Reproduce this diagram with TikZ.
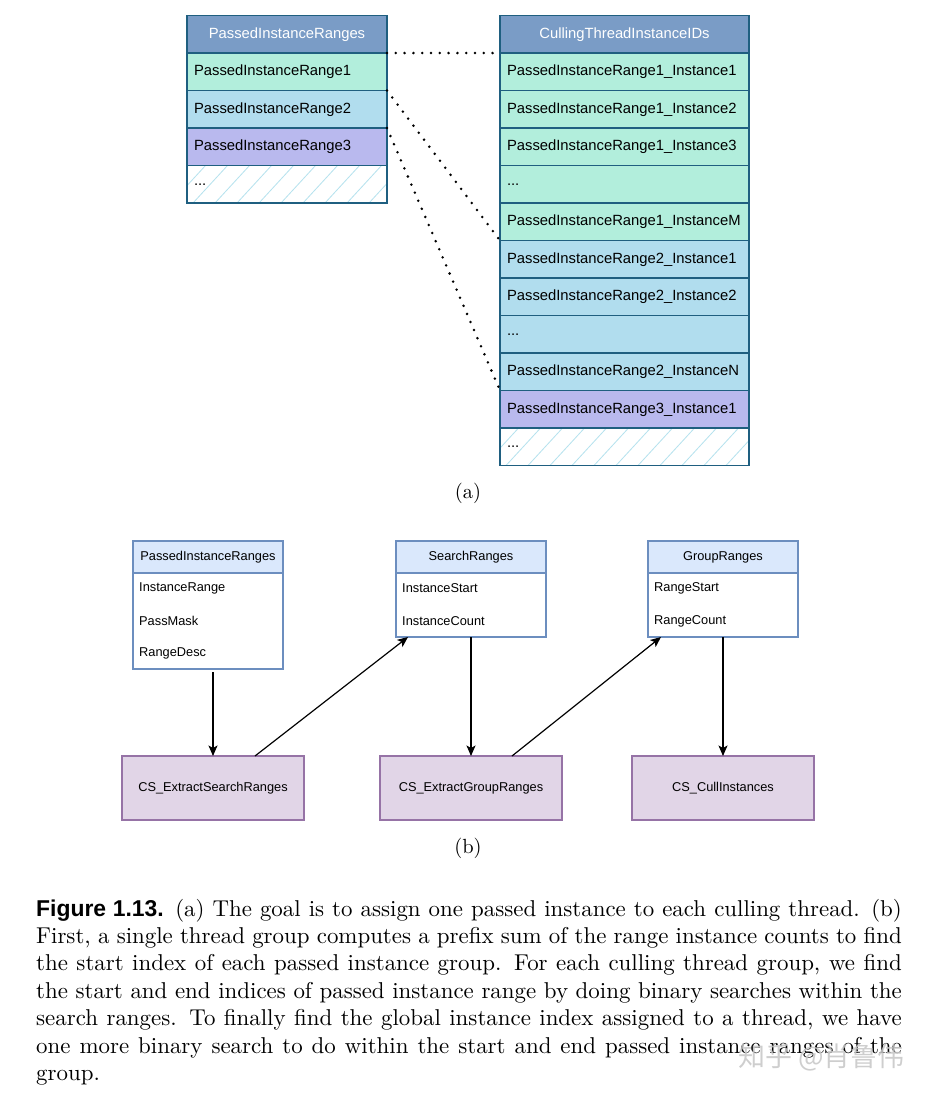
\documentclass[tikz,border=0pt]{standalone}
\usepackage{fontspec}
\usepackage{graphicx}
\newfontfamily\arial{Liberation Sans}
\newfontfamily\cjk{Noto Sans CJK SC}
\usetikzlibrary{arrows.meta}
\definecolor{tborder}{HTML}{1F5F80}
\definecolor{thead}{HTML}{7A9CC6}
\definecolor{mint}{HTML}{B2EEDC}
\definecolor{lblue}{HTML}{B1DDEE}
\definecolor{lav}{HTML}{B9B9EE}
\definecolor{hatchc}{HTML}{B4E2EE}
\definecolor{bborder}{HTML}{6C8EBF}
\definecolor{bhead}{HTML}{DAE8FC}
\definecolor{pborder}{HTML}{9673A6}
\definecolor{pfill}{HTML}{E1D5E7}
\begin{document}
\begin{tikzpicture}[x=1pt,y=-1pt,
  cell/.style={draw=tborder, line width=1.4pt, minimum height=37.5pt, inner xsep=7pt, inner ysep=0pt,
    align=left, anchor=north west, outer sep=0pt, font=\arial\fontsize{14.8}{17}\selectfont},
  lcell/.style={cell, text width=186pt},
  rcell/.style={cell, text width=235pt},
  thdr/.style={fill=thead, text=white, align=center},
  hatched/.style={fill=white, path picture={
      \foreach \i in {-60,-38,...,260}
        \draw[hatchc, line width=0.8pt] ([xshift=\i pt]path picture bounding box.south west) -- ++(35,-38);}},
  dots/.style={line width=2.8pt, line cap=round, dash pattern=on 0pt off 8.8pt},
  bfont/.style={font=\arial\fontsize{12.8}{15}\selectfont},
  hdr/.style={draw=bborder, fill=bhead, line width=1.2pt, minimum width=150pt, minimum height=32pt,
    anchor=north west, outer sep=0pt, inner sep=0pt, bfont},
  body/.style={draw=bborder, fill=white, line width=1.2pt, minimum width=150pt, anchor=north west,
    outer sep=0pt, inner sep=0pt},
  item/.style={anchor=west, inner sep=0pt, bfont},
  proc/.style={draw=pborder, fill=pfill, line width=1.2pt, minimum width=182pt, minimum height=64pt,
    anchor=north west, outer sep=0pt, inner sep=0pt, bfont},
  arr/.style={line width=1.2pt, -{Stealth[length=10.5pt,width=9pt,inset=2.5pt]}}
]
\useasboundingbox (0,0) rectangle (937,1096);

% ---------- (a) left table ----------
\node[lcell, thdr] (L0) at (187,15.5) {PassedInstanceRanges};
\node[lcell, fill=mint] (L1) at (L0.south west) {PassedInstanceRange1};
\node[lcell, fill=lblue] (L2) at (L1.south west) {PassedInstanceRange2};
\node[lcell, fill=lav] (L3) at (L2.south west) {PassedInstanceRange3};
\node[lcell, hatched] (L4) at (L3.south west) {...};

% ---------- (a) right table ----------
\node[rcell, thdr] (R0) at (500,15.5) {CullingThreadInstanceIDs};
\node[rcell, fill=mint] (R1) at (R0.south west) {PassedInstanceRange1\_Instance1};
\node[rcell, fill=mint] (R2) at (R1.south west) {PassedInstanceRange1\_Instance2};
\node[rcell, fill=mint] (R3) at (R2.south west) {PassedInstanceRange1\_Instance3};
\node[rcell, fill=mint] (R4) at (R3.south west) {...};
\node[rcell, fill=mint] (R5) at (R4.south west) {PassedInstanceRange1\_InstanceM};
\node[rcell, fill=lblue] (R6) at (R5.south west) {PassedInstanceRange2\_Instance1};
\node[rcell, fill=lblue] (R7) at (R6.south west) {PassedInstanceRange2\_Instance2};
\node[rcell, fill=lblue] (R8) at (R7.south west) {...};
\node[rcell, fill=lblue] (R9) at (R8.south west) {PassedInstanceRange2\_InstanceN};
\node[rcell, fill=lav] (R10) at (R9.south west) {PassedInstanceRange3\_Instance1};
\node[rcell, hatched] (R11) at (R10.south west) {...};

% dotted connectors
\draw[dots] (L0.south east) -- (R0.south west);
\draw[dots] (L1.south east) -- (R5.south west);
\draw[dots] (L2.south east) -- (R9.south west);

\node[inner sep=0pt] (la) at (468,493) {\scalebox{2.05}{(a)}};

% ---------- (b) ----------
\node[hdr] (B1h) at (133,541) {PassedInstanceRanges};
\node[body, minimum height=96pt] (B1b) at (B1h.south west) {};
\node[item] (B1i1) at (139,588.5) {InstanceRange};
\node[item] (B1i2) at (139,621) {PassMask};
\node[item] (B1i3) at (139,653.5) {RangeDesc};

\node[hdr] (Sh) at (396,541) {SearchRanges};
\node[body, minimum height=64pt] (Sb) at (Sh.south west) {};
\node[item] (Si1) at (402,588.5) {InstanceStart};
\node[item] (Si2) at (402,621) {InstanceCount};

\node[hdr] (Gh) at (648,541) {GroupRanges};
\node[body, minimum height=64pt] (Gb) at (Gh.south west) {};
\node[item] (Gi1) at (654,588.5) {RangeStart};
\node[item] (Gi2) at (654,621) {RangeCount};

\node[proc] (E1) at (122,756) {CS\_ExtractSearchRanges};
\node[proc] (E2) at (380,756) {CS\_ExtractGroupRanges};
\node[proc] (E3) at (632,756) {CS\_CullInstances};

\draw[arr, shorten <=3pt] (B1b.south -| E1.north) -- (E1.north);
\draw[arr] ([xshift=42pt]E1.north) -- ([xshift=-63pt]Sb.south);
\draw[arr] (Sb.south) -- (E2.north);
\draw[arr] ([xshift=41pt]E2.north) -- ([xshift=-62pt]Gb.south);
\draw[arr] (Gb.south) -- (E3.north);

\node[inner sep=0pt] (lb) at (468,848) {\scalebox{2.05}{(b)}};

% ---------- caption ----------
\node[anchor=base west, inner sep=0pt] (cap) at (36,916) {\scalebox{2.29}{\parbox[t]{378pt}{\fontsize{10}{12}\selectfont
{\arial\bfseries Figure 1.13.}\enskip(a) The goal is to assign one passed instance to each culling thread. (b)\linebreak
First, a single thread group computes a prefix sum of the range instance counts to find\linebreak
the start index of each passed instance group. For each culling thread group, we find\linebreak
the start and end indices of passed instance range by doing binary searches within the\linebreak
search ranges. To finally find the global instance index assigned to a thread, we have\linebreak
one more binary search to do within the start and end passed instance ranges of the\linebreak
group.}}};

\node[anchor=west, inner sep=0pt, text=gray!45, opacity=0.85, font=\cjk\fontsize{27}{30}\selectfont] (wm) at (738,1057) {知乎 @肖鲁伟};
\end{tikzpicture}
\end{document}
